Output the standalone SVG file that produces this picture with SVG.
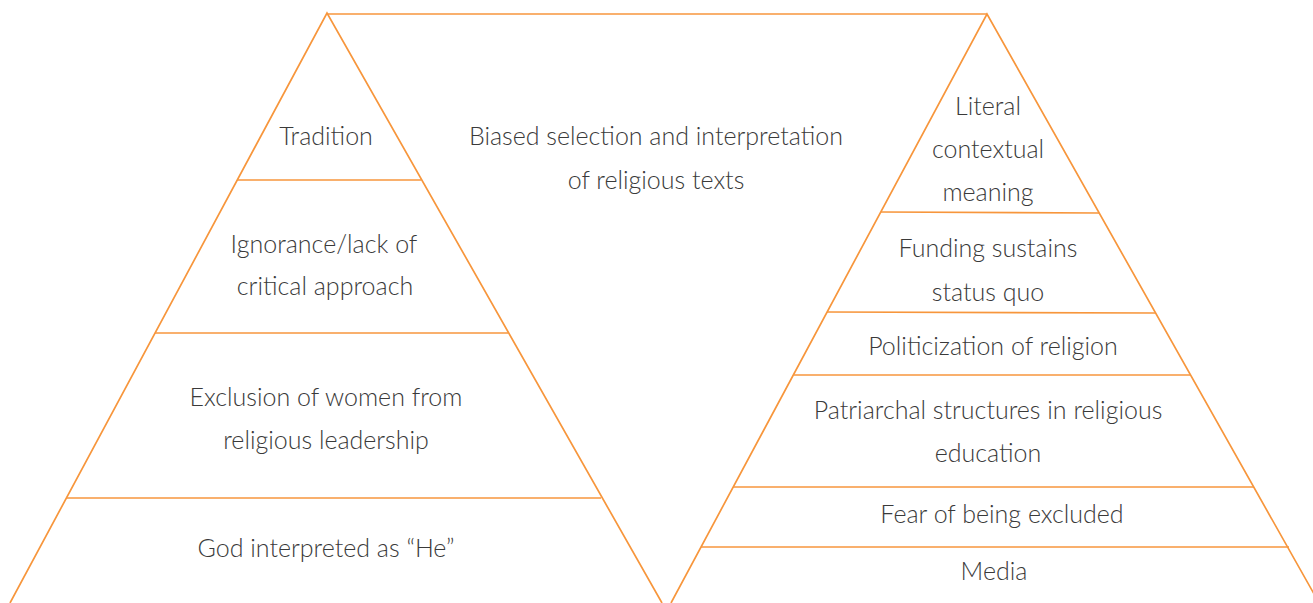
<svg xmlns="http://www.w3.org/2000/svg" width="1313" height="603" viewBox="0 0 1313 603">
  <style>
    .edge { stroke: #F7963C; stroke-width: 1.7; fill: none; stroke-linecap: butt; }
    .label { font-family: Lato, "Open Sans", "Liberation Sans", sans-serif; font-weight: 300; font-size: 25px; fill: #3a3a3a; text-anchor: middle; }
  </style>
  <rect width="1313" height="603" fill="#ffffff"/>

  <!-- outlines and tier dividers -->
  <g id="connectors">
    <polyline class="edge" points="10,603 327,13 662,603"/>
    <polyline class="edge" points="671,603 987,14 1318,601"/>
    <line class="edge" x1="327" y1="14" x2="987" y2="14"/>
    <!-- left pyramid tiers -->
    <line class="edge" x1="237" y1="180" x2="421" y2="180"/>
    <line class="edge" x1="155" y1="333" x2="508" y2="333"/>
    <line class="edge" x1="66" y1="498" x2="601" y2="498"/>
    <!-- right pyramid tiers -->
    <line class="edge" x1="881" y1="212" x2="1099" y2="213"/>
    <line class="edge" x1="827" y1="312" x2="1155" y2="313"/>
    <line class="edge" x1="794" y1="375" x2="1190" y2="375"/>
    <line class="edge" x1="733" y1="487" x2="1254" y2="487"/>
    <line class="edge" x1="701" y1="547" x2="1289" y2="547"/>
  </g>

  <!-- left pyramid -->
  <g id="tradition"><text class="label" x="326" y="145">Tradition</text></g>
  <g id="ignorance">
    <text class="label" x="324" y="253">Ignorance/lack of</text>
    <text class="label" x="325" y="295">critical approach</text>
  </g>
  <g id="exclusion">
    <text class="label" x="326" y="406">Exclusion of women from</text>
    <text class="label" x="326" y="449">religious leadership</text>
  </g>
  <g id="god-he"><text class="label" x="326" y="557">God interpreted as “He”</text></g>

  <!-- bridge label -->
  <g id="biased-selection">
    <text class="label" x="656" y="145">Biased selection and interpretation</text>
    <text class="label" x="656" y="189">of religious texts</text>
  </g>

  <!-- right pyramid -->
  <g id="literal">
    <text class="label" x="988" y="115">Literal</text>
    <text class="label" x="988" y="158">contextual</text>
    <text class="label" x="988" y="201">meaning</text>
  </g>
  <g id="funding">
    <text class="label" x="988" y="257">Funding sustains</text>
    <text class="label" x="988" y="301">status quo</text>
  </g>
  <g id="politicization"><text class="label" x="993" y="355">Politicization of religion</text></g>
  <g id="patriarchal">
    <text class="label" x="988" y="419">Patriarchal structures in religious</text>
    <text class="label" x="988" y="462">education</text>
  </g>
  <g id="fear"><text class="label" x="1002" y="523">Fear of being excluded</text></g>
  <g id="media"><text class="label" x="994" y="580">Media</text></g>
</svg>
